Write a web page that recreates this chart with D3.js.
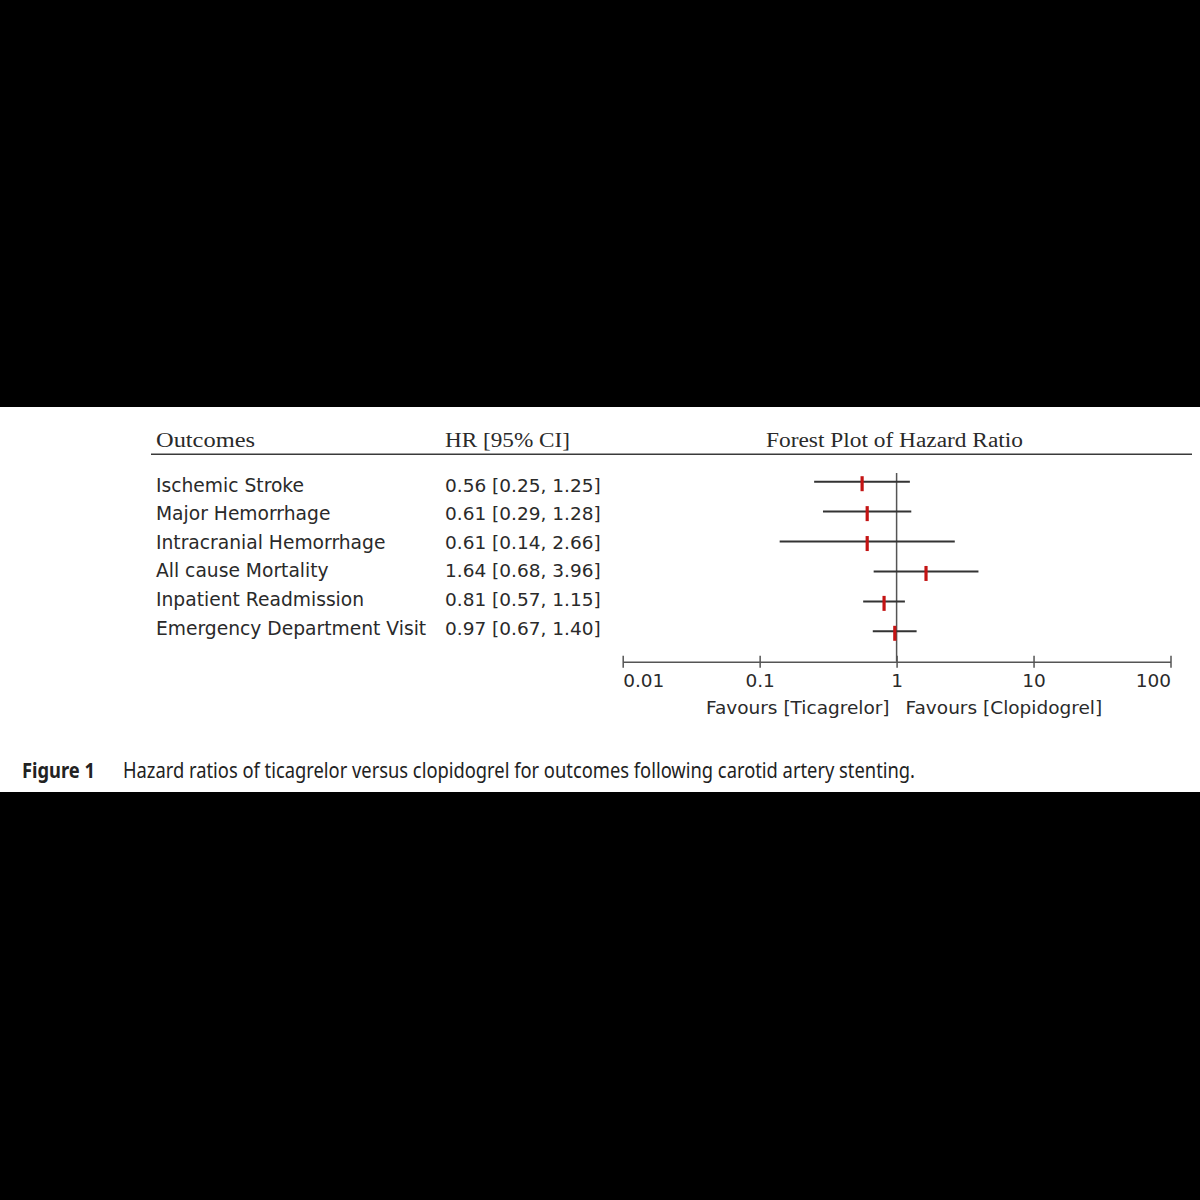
<!DOCTYPE html>
<html>
<head>
<meta charset="utf-8">
<script src="https://cdn.jsdelivr.net/npm/d3@7"></script>
<style>
  body { margin: 0; background: #000; }
  svg { display: block; }
</style>
</head>
<body>
<div id="chart"></div>
<script>
// data
var outcomes = ["Ischemic Stroke", "Major Hemorrhage", "Intracranial Hemorrhage",
                "All cause Mortality", "Inpatient Readmission", "Emergency Department Visit"];
var hr    = [0.56, 0.61, 0.61, 1.64, 0.81, 0.97];
var lower = [0.25, 0.29, 0.14, 0.68, 0.57, 0.67];
var upper = [1.25, 1.28, 2.66, 3.96, 1.15, 1.40];
var tickValues = [0.01, 0.1, 1, 10, 100];
var tickLabels = ["0.01", "0.1", "1", "10", "100"];

var rows = outcomes.map(function(d, i) {
  return { name: d, hr: hr[i], lo: lower[i], hi: upper[i] };
});

var svgWidth = 1200;
var svgHeight = 1200;

var svg = d3.select("#chart")
  .append("svg")
  .attr("width", svgWidth)
  .attr("height", svgHeight);

svg.append("rect")
  .attr("width", svgWidth)
  .attr("height", svgHeight)
  .attr("fill", "#000");

// white figure band
svg.append("rect")
  .attr("x", 0)
  .attr("y", 407)
  .attr("width", svgWidth)
  .attr("height", 385)
  .attr("fill", "#fff");

var xScale = d3.scaleLog()
  .domain([0.01, 100])
  .range([622.7, 1170.5]);

// plot rows and table rows are spaced a little differently in the figure
var yScale = d3.scalePoint()
  .domain(outcomes)
  .range([481.7, 631.3]);

var textScale = d3.scalePoint()
  .domain(outcomes)
  .range([491.5, 634.5]);

var axisY = 661.7;
var sans = "'DejaVu Sans', sans-serif";
var serif = "'Liberation Serif', 'Times New Roman', serif";

// column headers
var headers = [
  { t: "Outcomes", x: 156, w: 99 },
  { t: "HR [95% CI]", x: 445, w: 125 },
  { t: "Forest Plot of Hazard Ratio", x: 766, w: 257 }
];
svg.selectAll(".hdr")
  .data(headers)
  .enter()
  .append("text")
  .attr("class", "hdr")
  .attr("x", d => d.x)
  .attr("y", 446.7)
  .attr("font-family", serif)
  .attr("font-size", "20px")
  .attr("fill", "#2a2a2a")
  .attr("textLength", d => d.w)
  .attr("lengthAdjust", "spacingAndGlyphs")
  .text(d => d.t);

svg.append("line")
  .attr("x1", 151)
  .attr("x2", 1192)
  .attr("y1", 454.3)
  .attr("y2", 454.3)
  .attr("stroke", "#3a3a3a")
  .attr("stroke-width", 1.6);

// row labels and values
svg.selectAll(".lab")
  .data(rows)
  .enter()
  .append("text")
  .attr("class", "lab")
  .attr("x", 156)
  .attr("y", d => textScale(d.name))
  .attr("font-family", sans)
  .attr("font-size", "18.7px")
  .attr("fill", "#2a2a2a")
  .text(d => d.name);

svg.selectAll(".val")
  .data(rows)
  .enter()
  .append("text")
  .attr("class", "val")
  .attr("x", 445)
  .attr("y", d => textScale(d.name))
  .attr("font-family", sans)
  .attr("font-size", "18.5px")
  .attr("fill", "#2a2a2a")
  .text(d => d.hr.toFixed(2) + " [" + d.lo.toFixed(2) + ", " + d.hi.toFixed(2) + "]");

// reference line at HR = 1
svg.append("line")
  .attr("x1", xScale(1))
  .attr("x2", xScale(1))
  .attr("y1", 473)
  .attr("y2", axisY)
  .attr("stroke", "#555")
  .attr("stroke-width", 1.5);

// confidence intervals
svg.selectAll(".ci")
  .data(rows)
  .enter()
  .append("line")
  .attr("class", "ci")
  .attr("x1", d => xScale(d.lo))
  .attr("x2", d => xScale(d.hi))
  .attr("y1", d => yScale(d.name))
  .attr("y2", d => yScale(d.name))
  .attr("stroke", "#333")
  .attr("stroke-width", 2);

// point estimates
svg.selectAll(".est")
  .data(rows)
  .enter()
  .append("line")
  .attr("class", "est")
  .attr("x1", d => xScale(d.hr))
  .attr("x2", d => xScale(d.hr))
  .attr("y1", d => yScale(d.name) - 5.5)
  .attr("y2", d => yScale(d.name) + 9.5)
  .attr("stroke", "#c41414")
  .attr("stroke-width", 3.2);

// x axis
var bottomAxis = d3.axisBottom(xScale)
  .tickValues(tickValues)
  .tickFormat((d, i) => tickLabels[i])
  .tickSizeInner(6)
  .tickSizeOuter(0);

var xAxis = svg.append("g")
  .attr("transform", `translate(0, ${axisY})`)
  .call(bottomAxis);

xAxis.select(".domain")
  .attr("stroke", "#555")
  .attr("stroke-width", 1.6);

xAxis.selectAll(".tick line")
  .attr("y1", -6)
  .attr("y2", 6)
  .attr("stroke", "#555")
  .attr("stroke-width", 1.5);

xAxis.selectAll(".tick text")
  .attr("y", 25.5)
  .attr("dy", 0)
  .attr("font-family", sans)
  .attr("font-size", "18.5px")
  .attr("fill", "#2a2a2a")
  .attr("text-anchor", (d, i) => i === 0 ? "start" : (i === tickValues.length - 1 ? "end" : "middle"));

svg.append("text")
  .attr("x", xScale(1) - 7)
  .attr("y", 714)
  .attr("text-anchor", "end")
  .attr("font-family", sans)
  .attr("font-size", "18.5px")
  .attr("fill", "#2a2a2a")
  .text("Favours [Ticagrelor]");

svg.append("text")
  .attr("x", xScale(1) + 9)
  .attr("y", 714)
  .attr("font-family", sans)
  .attr("font-size", "18.5px")
  .attr("fill", "#2a2a2a")
  .text("Favours [Clopidogrel]");

// caption
var capFont = "'Liberation Sans Narrow', 'Noto Sans', sans-serif";
svg.append("text")
  .attr("x", 22)
  .attr("y", 778)
  .attr("font-family", capFont)
  .attr("font-weight", "bold")
  .attr("font-size", "21px")
  .attr("fill", "#222")
  .attr("textLength", 73)
  .attr("lengthAdjust", "spacingAndGlyphs")
  .text("Figure 1");

svg.append("text")
  .attr("x", 123)
  .attr("y", 778)
  .attr("font-family", capFont)
  .attr("font-size", "21px")
  .attr("fill", "#222")
  .attr("textLength", 792)
  .attr("lengthAdjust", "spacingAndGlyphs")
  .text("Hazard ratios of ticagrelor versus clopidogrel for outcomes following carotid artery stenting.");
</script>
</body>
</html>
